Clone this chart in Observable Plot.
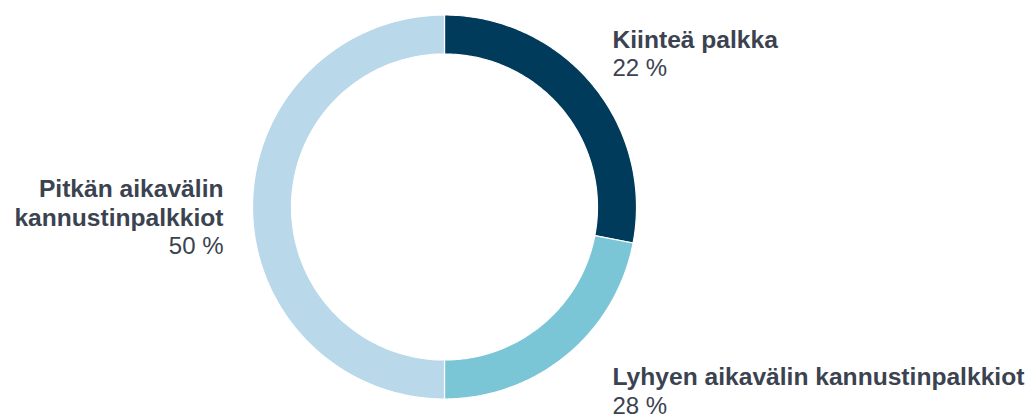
<!DOCTYPE html>
<html>
<head>
<meta charset="utf-8">
<script src="https://cdn.jsdelivr.net/npm/d3@7"></script>
<script src="https://cdn.jsdelivr.net/npm/@observablehq/plot@0.6"></script>
<style>
  html, body { margin: 0; padding: 0; background: #fff; }
  #chart svg { display: block; }
</style>
</head>
<body>
<div id="chart"></div>
<script>
// ---- data ----
const categories = ["Kiinteä palkka", "Lyhyen aikavälin kannustinpalkkiot", "Pitkän aikavälin kannustinpalkkiot"];
const labelLines = [["Kiinteä palkka"], ["Lyhyen aikavälin kannustinpalkkiot"], ["Pitkän aikavälin", "kannustinpalkkiot"]];
const shareLabels = ["22 %", "28 %", "50 %"];          // printed labels
const drawnShares = [28, 22, 50];                       // arc sizes as drawn in the picture
const colors = ["#003b5c", "#7bc6d6", "#b9d8ea"];

// ---- layout ----
const W = 1030, H = 417;
const cx = 444, cy = 206.5;   // donut centre in pixels
const R = 192, r = 153;       // outer / inner radius
const textColor = "#3b4350";

// arcs via d3.pie (angles clockwise from 12 o'clock)
const pie = d3.pie().sort(null).value(d => d.value);
const arcs = pie(categories.map((c, i) => ({cat: c, value: drawnShares[i]})));
const poly = [];
arcs.forEach(a => {
  const n = 120;
  const pts = [];
  for (let k = 0; k <= n; k++) {
    const t = a.startAngle + (a.endAngle - a.startAngle) * k / n;
    pts.push([R * Math.sin(t), -R * Math.cos(t)]);
  }
  for (let k = n; k >= 0; k--) {
    const t = a.startAngle + (a.endAngle - a.startAngle) * k / n;
    pts.push([r * Math.sin(t), -r * Math.cos(t)]);
  }
  pts.push(pts[0]);
  pts.forEach(p => poly.push({cat: a.data.cat, x: p[0], y: p[1]}));
});

// label anchor positions (pixels relative to centre)
const labelPos = [
  {x: 612 - cx, y: 47 - cy, anchor: "start"},
  {x: 612 - cx, y: 384.5 - cy, anchor: "start"},
  {x: 223 - cx, y: 196.5 - cy, anchor: "end"}
];
const lineGap = 28.5;
const nameRows = [], pctRows = [];
categories.forEach((c, i) => {
  const p = labelPos[i];
  labelLines[i].forEach((t, j) => nameRows.push({x: p.x, y: p.y + j * lineGap, text: t, anchor: p.anchor}));
  pctRows.push({x: p.x, y: p.y + labelLines[i].length * lineGap, text: shareLabels[i], anchor: p.anchor});
});

const chart = Plot.plot({
  width: W, height: H,
  margin: 0, inset: 0,
  style: {fontFamily: "Liberation Sans, Arial, sans-serif", background: "#fff"},
  x: {domain: [-cx, W - cx], axis: null},
  y: {domain: [-cy, H - cy], reverse: true, axis: null},
  color: {domain: categories, range: colors},
  marks: [
    Plot.line(poly, {x: "x", y: "y", z: "cat", fill: "cat", stroke: "white", strokeWidth: 1.2, curve: "linear"}),
    Plot.text(nameRows.filter(d => d.anchor === "start"), {x: "x", y: "y", text: "text", textAnchor: "start", lineAnchor: "bottom", fontSize: 24.6, fontWeight: "bold", fill: textColor}),
    Plot.text(nameRows.filter(d => d.anchor === "end"), {x: "x", y: "y", text: "text", textAnchor: "end", lineAnchor: "bottom", fontSize: 24.6, fontWeight: "bold", fill: textColor}),
    Plot.text(pctRows.filter(d => d.anchor === "start"), {x: "x", y: "y", text: "text", textAnchor: "start", lineAnchor: "bottom", fontSize: 24, fill: textColor}),
    Plot.text(pctRows.filter(d => d.anchor === "end"), {x: "x", y: "y", text: "text", textAnchor: "end", lineAnchor: "bottom", fontSize: 24, fill: textColor})
  ]
});
document.getElementById("chart").appendChild(chart);
</script>
</body>
</html>
